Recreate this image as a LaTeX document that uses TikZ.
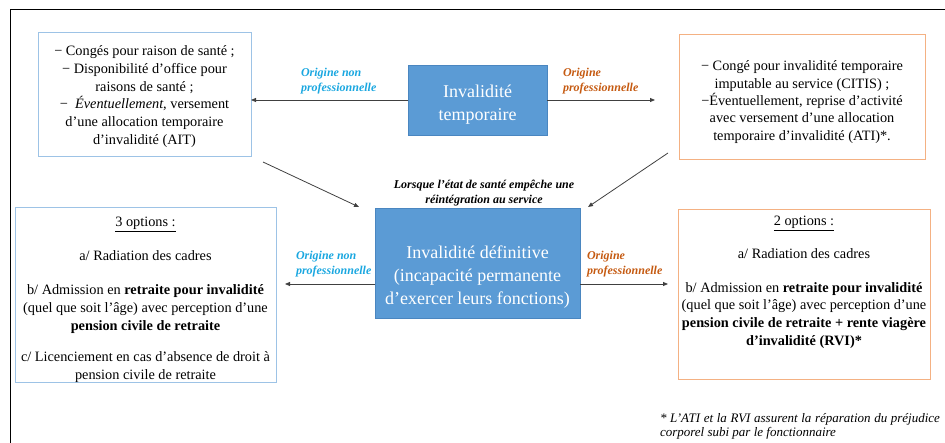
\documentclass[tikz,border=0pt]{standalone}
\usepackage{fontspec}
\setmainfont{Liberation Serif}
\usetikzlibrary{arrows.meta}
\definecolor{boxblue}{HTML}{5B9BD5}
\definecolor{boxblueedge}{HTML}{4A86C0}
\definecolor{lightedge}{HTML}{9DC3E6}
\definecolor{orangeedge}{HTML}{F4B183}
\definecolor{cyanlabel}{HTML}{1AA7E0}
\definecolor{orangelabel}{HTML}{C55A11}
\definecolor{arrowgray}{HTML}{404040}
\begin{document}
\begin{tikzpicture}[x=1pt,y=-1pt,
  every node/.style={inner sep=0pt,outer sep=0pt},
  lbox/.style={draw=lightedge,line width=1pt,rectangle},
  obox/.style={draw=orangeedge,line width=1pt,rectangle},
  bbox/.style={fill=boxblue,draw=boxblueedge,line width=0.6pt,rectangle},
  btext/.style={align=center,text=white,font=\fontsize{18}{23}\selectfont},
  ttext/.style={align=center,font=\fontsize{14.3}{17.8}\selectfont},
  blabel/.style={align=left,text=cyanlabel,font=\fontsize{12}{15}\selectfont\bfseries\itshape},
  olabel/.style={align=left,text=orangelabel,font=\fontsize{12}{15}\selectfont\bfseries\itshape},
  conn/.style={draw=arrowgray,line width=0.8pt,-{Triangle[length=5pt,width=4pt]}}]
\useasboundingbox (0,0) rectangle (945,443);
% outer frame (cropped)
\draw[line width=1pt,black] (10,443) -- (10,10) -- (945,10);

% boxes
\node[lbox,minimum width=213pt,minimum height=124pt] (tl) at (144.5,95) {};
\node[obox,minimum width=246pt,minimum height=125pt] (tr) at (802,97.5) {};
\node[bbox,minimum width=139pt,minimum height=70pt] (ti) at (477.5,100) {};
\node[bbox,minimum width=205pt,minimum height=110pt] (bi) at (477.5,263) {};
\node[lbox,minimum width=261pt,minimum height=175pt] (bl) at (145.5,295.5) {};
\node[obox,minimum width=252pt,minimum height=170pt] (br) at (804,295) {};

% texts in boxes
\node[ttext] (tltext) at (144.5,96.5) {−~Congés pour raison de santé ;\\
−~Disponibilité d’office pour\\ raisons de santé ;\\
−~~\textit{Éventuellement}, versement\\ d’une allocation temporaire\\ d’invalidité (AIT)};
\node[ttext,font=\fontsize{14.3}{17.3}\selectfont] (trtext) at (802,102) {−~Congé pour invalidité temporaire\\
imputable au service (CITIS) ;\\
−Éventuellement, reprise d’activité\\
avec versement d’une allocation\\
temporaire d’invalidité (ATI)*.};
\node[btext] (titext) at (477.5,105) {Invalidité\\ temporaire};
\node[btext] (bitext) at (477.5,277) {Invalidité définitive\\ (incapacité permanente\\ d’exercer leurs fonctions)};
\node[ttext] (bltext) at (145.5,300) {\underline{3 options :}\\[16pt]
a/ Radiation des cadres\\[16pt]
b/ Admission en \textbf{retraite pour invalidité}\\
(quel que soit l’âge) avec perception d’une\\
\textbf{pension civile de retraite}\\[14pt]
c/ Licenciement en cas d’absence de droit à\\
pension civile de retraite};
\node[ttext,anchor=north] (brtext) at (804,216) {\underline{2 options :}\\[15pt]
a/ Radiation des cadres\\[16pt]
b/ Admission en \textbf{retraite pour invalidité}\\
(quel que soit l’âge) avec perception d’une\\
\textbf{pension civile de retraite + rente viagère}\\
\textbf{d’invalidité (RVI)*}};

% labels
\node[blabel,anchor=west] (lab1) at (301,81) {Origine non\\ professionnelle};
\node[olabel,anchor=west] (lab2) at (563,81) {Origine\\ professionnelle};
\node[blabel,anchor=west] (lab3) at (296,264) {Origine non\\ professionnelle};
\node[olabel,anchor=west] (lab4) at (587,264) {Origine\\ professionnelle};
\node[align=center,font=\fontsize{12}{15}\selectfont\bfseries\itshape] (cond) at (484,193) {Lorsque l’état de santé empêche une\\ réintégration au service};

% connectors
\coordinate (trend) at (655,100);
\draw[conn] (ti.west) -- (ti.west -| tl.east);
\draw[conn] (ti.east) -- (trend);
\coordinate (blend) at (285,284);
\coordinate (brend) at (668,284);
\draw[conn] (bi.west |- blend) -- (blend);
\draw[conn] (bi.east |- brend) -- (brend);
\draw[conn] ([xshift=12pt,yshift=-5pt]tl.south east) -- ([xshift=-16pt,yshift=1pt]bi.north west);
\draw[conn] ([xshift=-11pt,yshift=7pt]tr.south west) -- ([xshift=8pt,yshift=1pt]bi.north east);

% footnote
\node[anchor=north west,align=left,font=\fontsize{13}{14}\selectfont\itshape] (foot) at (660,413) {\makebox[280pt][s]{* L’ATI et la RVI assurent la réparation du préjudice}\\ corporel subi par le fonctionnaire};
\end{tikzpicture}
\end{document}
